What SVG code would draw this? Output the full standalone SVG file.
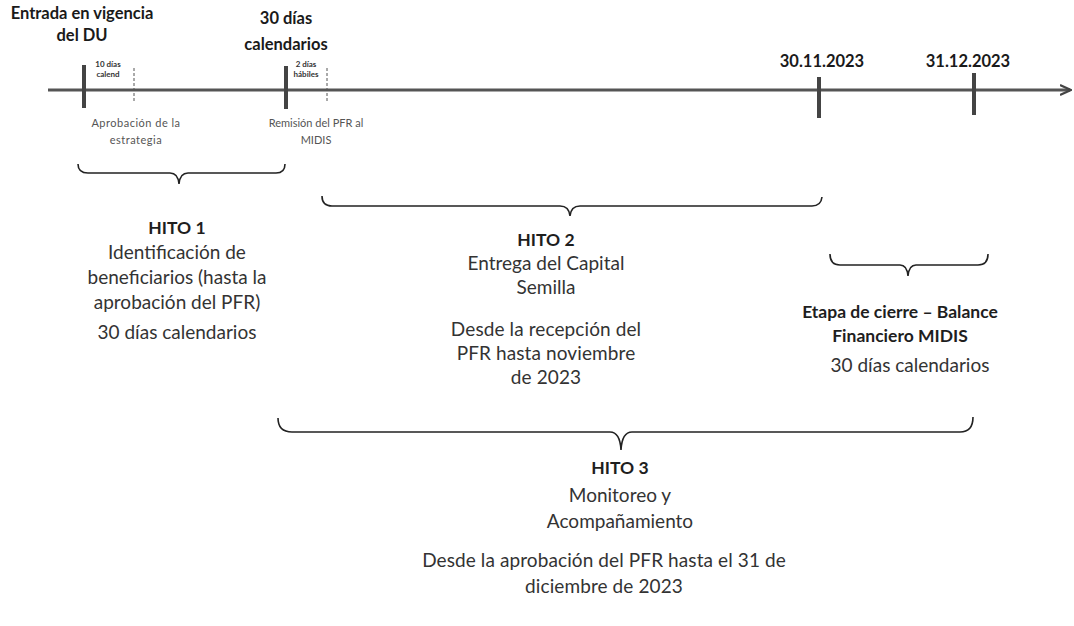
<svg xmlns="http://www.w3.org/2000/svg" width="1074" height="626" viewBox="0 0 1074 626">
<style>
text{font-family:Lato,"Liberation Sans",sans-serif;fill:#333;text-anchor:middle}
.b{font-weight:bold;fill:#1e1e1e;font-size:17.5px}
.t{font-size:16.5px;font-weight:bold;fill:#1a1a1a}
.s{font-size:8px;font-weight:bold}
.m{font-size:11px;fill:#555}
.n{font-size:19px}
.w{font-size:19px;letter-spacing:0.1px}
.tick{stroke:#444;stroke-width:4}
.dtick{stroke:#555;stroke-width:1;stroke-dasharray:3 2}
.brace{fill:none;stroke:#222;stroke-width:1.6}
</style>
<defs>
<marker id="arr" markerWidth="12" markerHeight="12" refX="10" refY="6" orient="auto" markerUnits="userSpaceOnUse">
<path d="M0,1 L11,6 L0,11" fill="none" stroke="#444" stroke-width="2.2"/>
</marker>
</defs>
<rect width="1074" height="626" fill="#fff"/>
<g id="connectors">
<line x1="48" y1="90" x2="1070" y2="90" stroke="#555" stroke-width="3" marker-end="url(#arr)"/>
<line class="tick" x1="84" y1="65" x2="84" y2="108"/>
<line class="dtick" x1="134" y1="68" x2="134" y2="101"/>
<line class="tick" x1="286" y1="66" x2="286" y2="109"/>
<line class="dtick" x1="327" y1="68" x2="327" y2="101"/>
<line class="tick" x1="819" y1="77" x2="819" y2="118"/>
<line class="tick" x1="974" y1="73" x2="974" y2="115"/>
<path class="brace" d="M78,164 Q78,173 88,173 L170,173 Q178,173 179,184 Q180,173 188,173 L276,173 Q285,173 285,164"/>
<path class="brace" d="M322,196 Q322,206 332,206 L560,206 Q569,206 570,216 Q571,206 580,206 L812,206 Q821,206 822,197"/>
<path class="brace" d="M830,254 Q830,265 840,265 L900,265 Q907,265 908,276 Q909,265 916,265 L978,265 Q988,265 988,254"/>
<path class="brace" d="M278,418 Q278,432 292,432 L610,432 Q620,432 621,450 Q622,432 632,432 L960,432 Q973,432 973,417"/>
</g>
<g id="entrada"><text class="t" x="82" y="19">Entrada en vigencia</text><text class="t" x="82" y="41">del DU</text></g>
<g id="dias30"><text class="t" x="286" y="24">30 días</text><text class="t" x="286" y="50">calendarios</text></g>
<g id="d10"><text class="s" x="108" y="67">10 días</text><text class="s" x="108" y="77">calend</text></g>
<g id="d2"><text class="s" x="306" y="67">2 días</text><text class="s" x="306" y="77">hábiles</text></g>
<g id="aprob"><text class="m" x="136" y="127" letter-spacing="0.5">Aprobación de la</text><text class="m" x="136" y="144" letter-spacing="0.5">estrategia</text></g>
<g id="remision"><text class="m" x="316" y="127">Remisión del PFR al</text><text class="m" x="316" y="144">MIDIS</text></g>
<g id="f3011"><text class="t" x="822" y="67">30.11.2023</text></g>
<g id="f3112"><text class="t" x="968" y="67">31.12.2023</text></g>
<g id="hito1">
<text class="b" x="177" y="234">HITO 1</text>
<text class="n" x="177" y="259">Identificación de</text>
<text class="n" x="177" y="284">beneficiarios (hasta la</text>
<text class="n" x="177" y="309">aprobación del PFR)</text>
<text class="n" x="177" y="339">30 días calendarios</text>
</g>
<g id="hito2">
<text class="b" x="546" y="246">HITO 2</text>
<text class="n" x="546" y="270">Entrega del Capital</text>
<text class="n" x="546" y="294">Semilla</text>
<text class="w" x="546" y="336">Desde la recepción del</text>
<text class="w" x="546" y="360">PFR hasta noviembre</text>
<text class="w" x="546" y="384">de 2023</text>
</g>
<g id="cierre">
<text class="b" x="900" y="318">Etapa de cierre – Balance</text>
<text class="b" x="900" y="342">Financiero MIDIS</text>
<text class="n" x="910" y="372">30 días calendarios</text>
</g>
<g id="hito3">
<text class="b" x="620" y="474">HITO 3</text>
<text class="n" x="620" y="502">Monitoreo y</text>
<text class="n" x="620" y="528">Acompañamiento</text>
<text class="w" x="604" y="567">Desde la aprobación del PFR hasta el 31 de</text>
<text class="w" x="604" y="593">diciembre de 2023</text>
</g>
</svg>
